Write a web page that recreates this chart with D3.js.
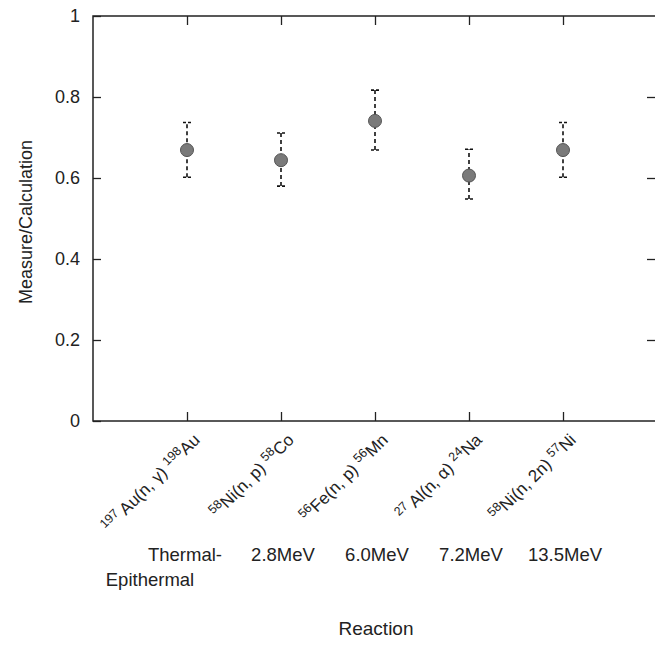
<!DOCTYPE html>
<html><head><meta charset="utf-8">
<script src="https://cdn.jsdelivr.net/npm/d3@7"></script>
<style>body{margin:0;background:#fff;} text{font-family:"Liberation Sans",Arial,sans-serif;fill:#222;}</style>
</head><body>
<svg id="c" width="655" height="657"></svg>
<script>
const targetMass = ["197 ", "58", "56", "27 ", "58"];
const targetSym = ["Au", "Ni", "Fe", "Al", "Ni"];
const reactionType = ["(n, γ) ", "(n, p) ", "(n, p) ", "(n, α) ", "(n, 2n) "];
const productMass = ["198", "58", "56", "24", "57"];
const productSym = ["Au", "Co", "Mn", "Na", "Ni"];
const energies = [["Thermal-", "Epithermal"], ["2.8MeV"], ["6.0MeV"], ["7.2MeV"], ["13.5MeV"]];
const ratio = [0.669, 0.644, 0.741, 0.606, 0.669];
const errLow = [0.602, 0.580, 0.669, 0.548, 0.602];
const errHigh = [0.737, 0.711, 0.817, 0.671, 0.737];
const yTicks = [0, 0.2, 0.4, 0.6, 0.8, 1];

const svg = d3.select("#c");
const L = 93, R = 657, T = 16, B = 421;
const x = d3.scaleLinear().domain([0, 6]).range([L, R]);
const y = d3.scaleLinear().domain([0, 1]).range([B, T]);
const idx = d3.range(1, 6);

// frame
svg.append("rect").attr("x", L).attr("y", T).attr("width", R - L).attr("height", B - T)
  .attr("fill", "none").attr("stroke", "#222").attr("stroke-width", 1.5);

// y axis
const yAx = svg.append("g").attr("transform", `translate(${L},0)`)
  .call(d3.axisLeft(y).tickValues(yTicks).tickFormat(d3.format("~g")).tickSize(-8).tickPadding(13));
yAx.select(".domain").remove();
yAx.selectAll("line").attr("stroke", "#222").attr("stroke-width", 1.3);
yAx.selectAll("text").attr("font-size", 18).attr("fill", "#222");
const yAxR = svg.append("g").attr("transform", `translate(${R},0)`)
  .call(d3.axisRight(y).tickValues(yTicks.slice(1, 5)).tickFormat("").tickSize(-10));
yAxR.select(".domain").remove();
yAxR.selectAll("line").attr("stroke", "#222").attr("stroke-width", 1.3);

// x axis
const xAx = svg.append("g").attr("transform", `translate(0,${B})`)
  .call(d3.axisBottom(x).tickValues(idx).tickFormat("").tickSize(-9));
xAx.select(".domain").remove();
xAx.selectAll("line").attr("stroke", "#222").attr("stroke-width", 1.3);
const xAxT = svg.append("g").attr("transform", `translate(0,${T})`)
  .call(d3.axisTop(x).tickValues(idx).tickFormat("").tickSize(-9));
xAxT.select(".domain").remove();
xAxT.selectAll("line").attr("stroke", "#222").attr("stroke-width", 1.3);

// rotated reaction labels
idx.forEach((k, i) => {
  const t = svg.append("text")
    .attr("transform", `translate(${x(k) + 14},${B + 20}) rotate(-45)`)
    .attr("text-anchor", "end").attr("font-size", 17);
  t.append("tspan").text(targetMass[i]).attr("font-size", 12.5).attr("dy", -6);
  t.append("tspan").text(targetSym[i] + reactionType[i]).attr("dy", 6);
  t.append("tspan").text(productMass[i]).attr("font-size", 12.5).attr("dy", -6);
  t.append("tspan").text(productSym[i]).attr("dy", 6);
});

// energy labels
idx.forEach((k, i) => {
  const lines = energies[i];
  lines.forEach((s, j) => {
    svg.append("text").attr("x", x(k) + (lines.length > 1 ? (j === 0 ? -2 : -37) : 2))
      .attr("y", 561 + j * 25).attr("text-anchor", "middle").attr("font-size", 18.5).text(s);
  });
});

// axis titles
svg.append("text").attr("x", 376).attr("y", 635).attr("text-anchor", "middle")
  .attr("font-size", 19).text("Reaction");
svg.append("text").attr("transform", `translate(32,222) rotate(-90)`).attr("text-anchor", "middle")
  .attr("font-size", 18).text("Measure/Calculation");

// error bars
const eg = svg.append("g").attr("stroke", "#111").attr("stroke-width", 1.6);
idx.forEach((k, i) => {
  eg.append("line").attr("x1", x(k)).attr("x2", x(k)).attr("y1", y(errLow[i])).attr("y2", y(errHigh[i]))
    .attr("stroke-dasharray", "4,3");
  [errLow[i], errHigh[i]].forEach(v => {
    eg.append("line").attr("x1", x(k) - 4).attr("x2", x(k) + 4).attr("y1", y(v)).attr("y2", y(v))
      .attr("stroke-dasharray", "3,2");
  });
});

// points
svg.append("g").selectAll("circle").data(idx).join("circle")
  .attr("cx", d => x(d)).attr("cy", (d, i) => y(ratio[i])).attr("r", 6.5)
  .attr("fill", "#7a7a7a").attr("stroke", "#555").attr("stroke-width", 1);
</script>
</body></html>
